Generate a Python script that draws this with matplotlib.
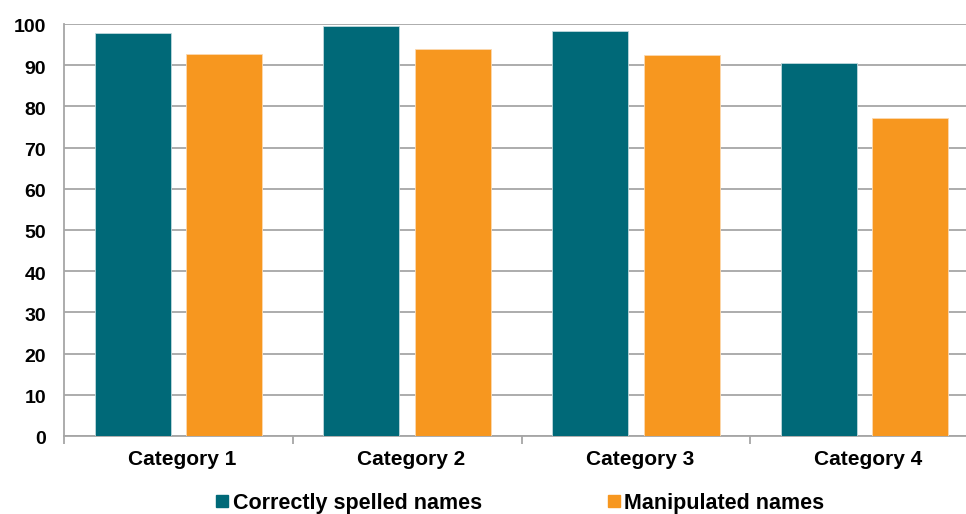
import matplotlib
matplotlib.use('Agg')
import matplotlib.pyplot as plt
import matplotlib.transforms as mtransforms
import numpy as np
from matplotlib.lines import Line2D

plt.rcParams['font.family'] = ['Liberation Sans', 'DejaVu Sans']
plt.rcParams['font.weight'] = 'bold'

categories = ['Category 1', 'Category 2', 'Category 3', 'Category 4']
correct = [97.9, 99.6, 98.3, 90.6]
manipulated = [92.7, 93.9, 92.5, 77.3]
series_names = ['Correctly spelled names', 'Manipulated names']
yticks = [0, 10, 20, 30, 40, 50, 60, 70, 80, 90, 100]

teal = '#006978'
orange = '#F7971F'
grid_c = '#A6A6A6'

fig = plt.figure(figsize=(9.66, 5.14), dpi=100)
# plot area runs a little past the right edge of the canvas
ax = fig.add_axes([64/966, 1 - 436/514, 915/966, 412/514])

x = np.arange(len(categories))
w = 0.333
off = 0.2
ax.bar(x - off, correct, w, color=teal, edgecolor='#BFD9DD', linewidth=0.6, zorder=3)
ax.bar(x + off, manipulated, w, color=orange, edgecolor='#FCD9B0', linewidth=0.6, zorder=3)

ax.set_xlim(-0.5, len(categories) - 0.5)
ax.set_ylim(0, 100)
ax.set_yticks(yticks)
ax.yaxis.grid(True, color=grid_c, linewidth=1.3, zorder=0)
ax.tick_params(axis='y', length=0, pad=13, labelsize=14)
ax.set_xticks(x)
ax.set_xticklabels(categories)
ax.set_xticks(np.arange(len(categories) + 1) - 0.5, minor=True)
ax.tick_params(axis='x', which='major', length=0, pad=10, labelsize=15)
ax.tick_params(axis='x', which='minor', length=6, color=grid_c, width=1.3)

shift_x = mtransforms.ScaledTranslation(4/100, 0, fig.dpi_scale_trans)
for lab in ax.get_xticklabels():
    lab.set_transform(lab.get_transform() + shift_x)
shift_y = mtransforms.ScaledTranslation(0, -2/100, fig.dpi_scale_trans)
for lab in ax.get_yticklabels():
    lab.set_transform(lab.get_transform() + shift_y)

for s in ['top', 'right']:
    ax.spines[s].set_visible(False)
for s in ['left', 'bottom']:
    ax.spines[s].set_color(grid_c)
    ax.spines[s].set_linewidth(1.3)

handles = [Line2D([], [], marker='s', linestyle='none', color=c, markersize=8.6)
           for c in (teal, orange)]
fig.legend(handles, series_names, loc='center', bbox_to_anchor=(0.5385, 0.021),
           ncol=2, frameon=False, fontsize=15.5, handlelength=0.6,
           handletextpad=0.2, columnspacing=5.8, borderpad=0, borderaxespad=0)

fig.savefig('out.png', dpi=100)
